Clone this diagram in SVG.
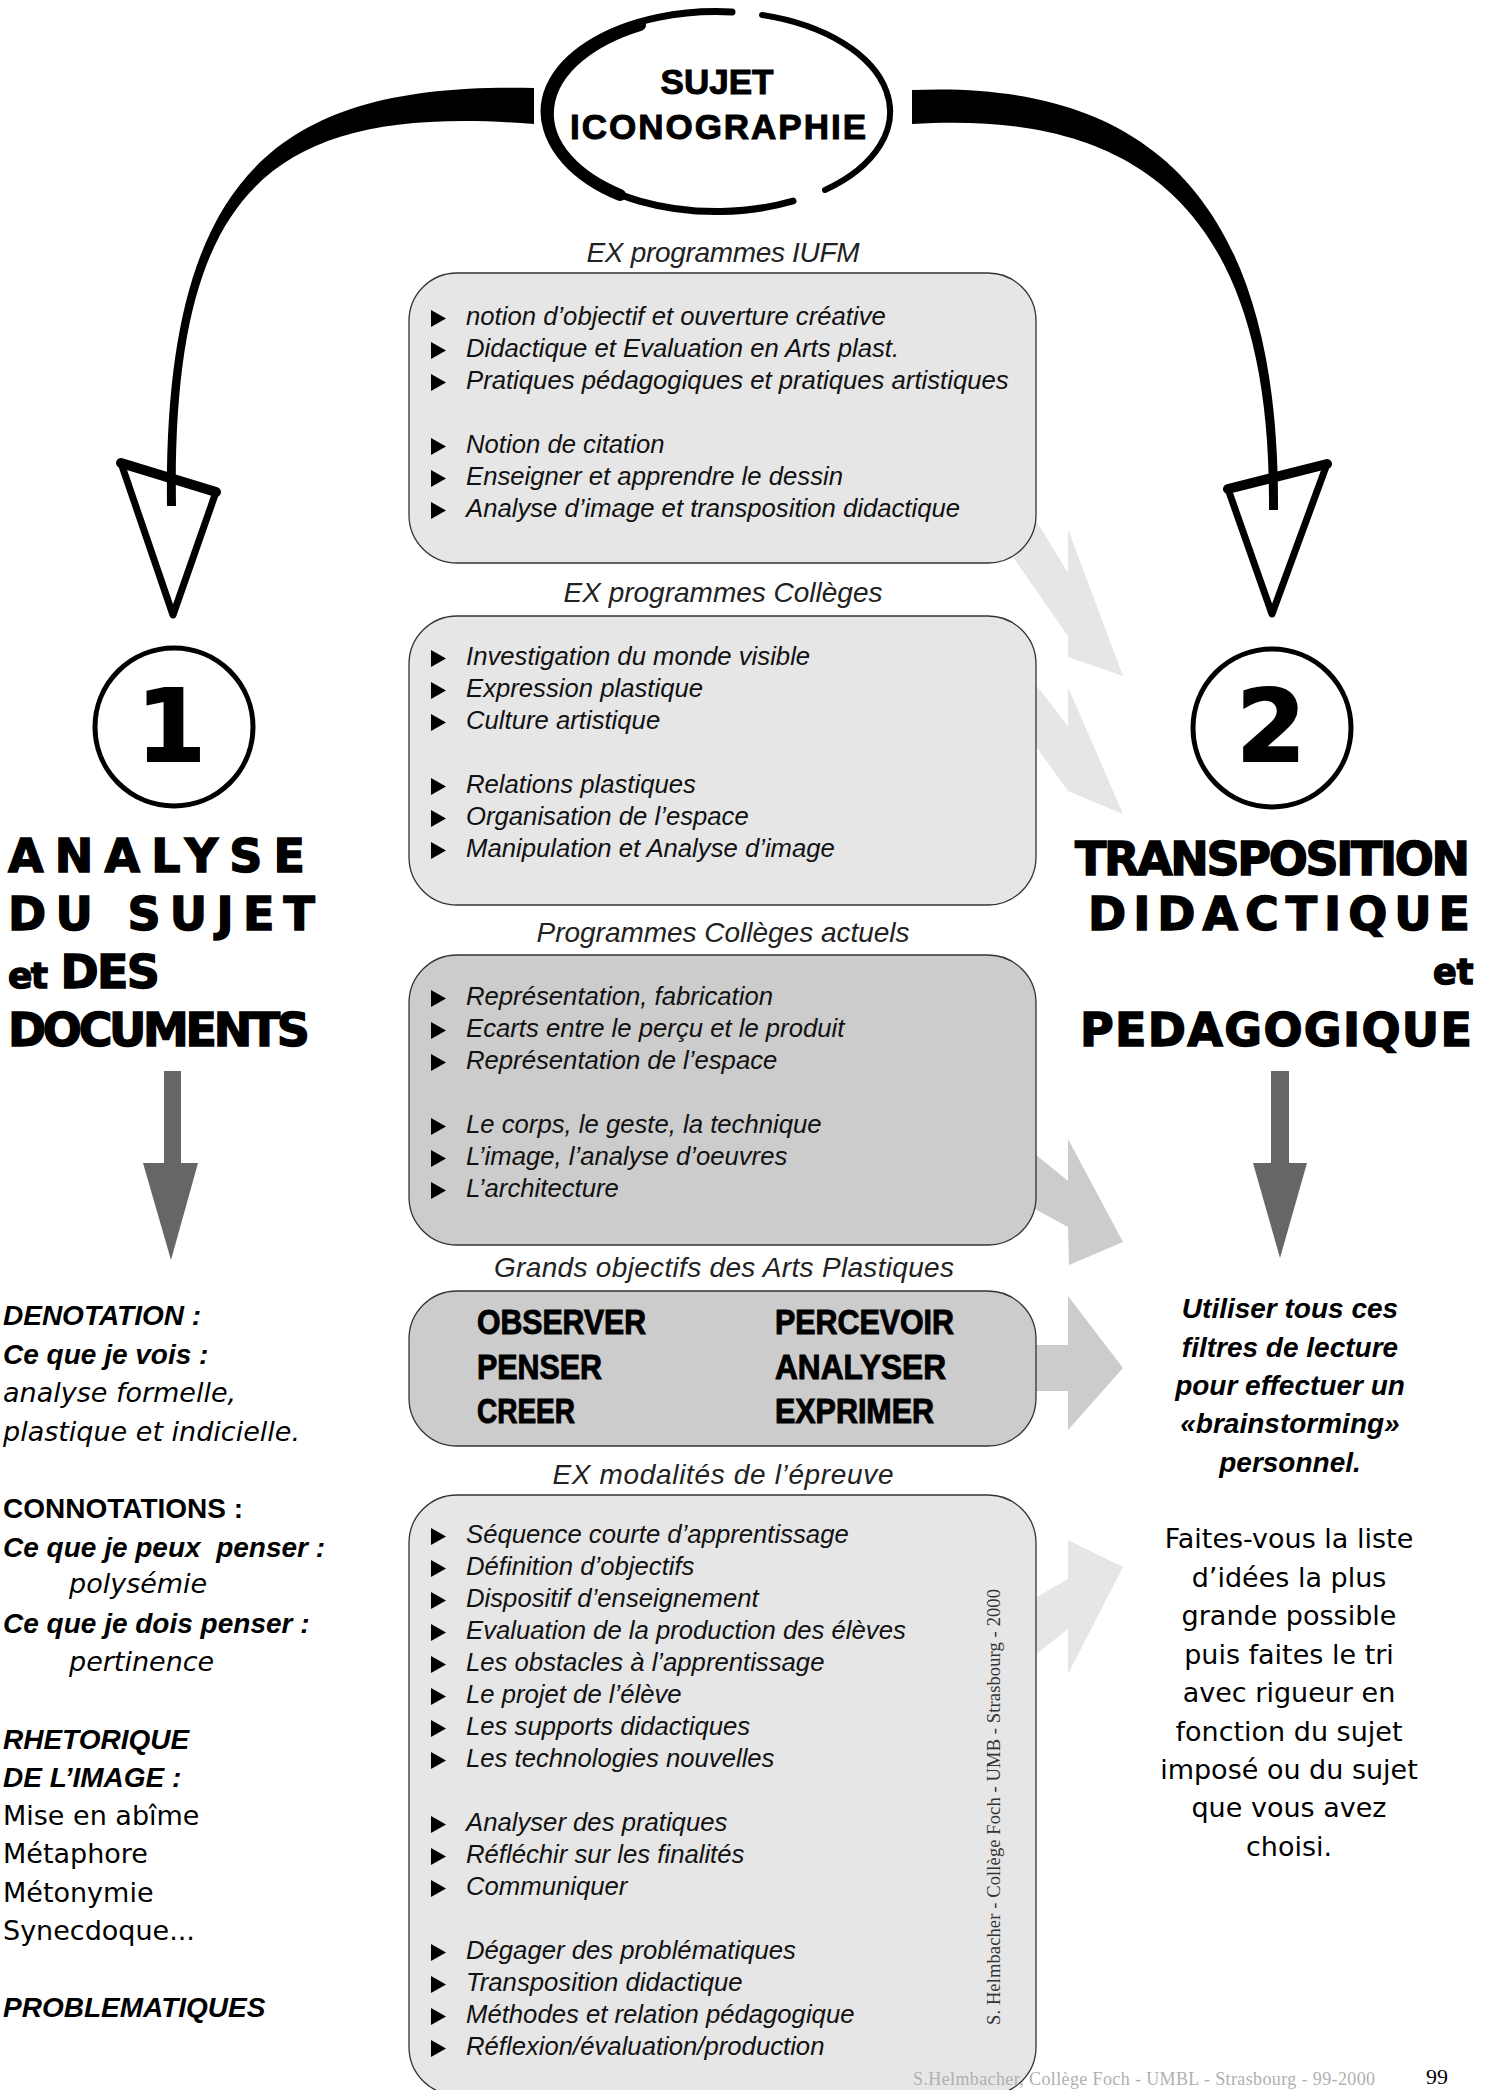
<svg xmlns="http://www.w3.org/2000/svg" width="1491" height="2090" viewBox="0 0 1491 2090">
<defs>
<style>
.boxl{fill:#e6e6e6;stroke:#333;stroke-width:1.3}
.boxd{fill:#cccccc;stroke:#333;stroke-width:1.3}
.title{font-family:"Liberation Sans",Arial,sans-serif;font-style:italic;font-size:28px;fill:#222;text-anchor:middle}
.item{font-family:"Liberation Sans",Arial,sans-serif;font-style:italic;font-size:25.7px;fill:#111}
.big{font-family:"Liberation Sans",Arial,sans-serif;font-weight:bold;font-size:35px;fill:#000;stroke:#000;stroke-width:1}
.head{font-family:"DejaVu Sans",sans-serif;font-weight:bold;font-size:46px;fill:#000;stroke:#000;stroke-width:1.4}
.num{font-family:"DejaVu Sans",sans-serif;font-weight:bold;font-size:100px;fill:#000;stroke:#000;stroke-width:2;text-anchor:middle}
.suj{font-family:"Liberation Sans",Arial,sans-serif;font-weight:bold;font-size:35px;fill:#000;stroke:#000;stroke-width:1;text-anchor:middle}
.lb{font-family:"Liberation Sans",Arial,sans-serif;font-weight:bold;font-style:italic;font-size:28px;fill:#000;white-space:pre}
.lbu{font-family:"Liberation Sans",Arial,sans-serif;font-weight:bold;font-size:28px;fill:#000}
.li{font-family:"DejaVu Sans",sans-serif;font-style:italic;font-size:27px;fill:#000}
.lr{font-family:"DejaVu Sans",sans-serif;font-size:27px;fill:#000}
.rc{text-anchor:middle}
.garr{stroke:none}
.blk{fill:#000;stroke:none}
.head-tri{fill:none;stroke:#000;stroke-width:7;stroke-linejoin:round}
.down{fill:#666;stroke:none}
.ell{fill:none;stroke:#000;stroke-linecap:round}
.foot{font-family:"Liberation Serif","Times New Roman",serif}
</style>
<path id="bul" d="M0,-15 L15,-6.5 L0,2 Z" fill="#000"/>
</defs>
<rect width="1491" height="2090" fill="#fff"/>

<g id="connectors">
  <!-- light gray block arrows (behind boxes) -->
  <polygon class="garr" fill="#e6e6e6" points="1015,486 1068,573 1068,529 1123,676 1068,657 1068,636 985,517"/>
  <polygon class="garr" fill="#e6e6e6" points="1002,642 1068,726 1068,687 1123,814 1068,791 1002,699"/>
  <polygon class="garr" fill="#cccccc" points="1002,1127 1068,1181 1068,1139 1123,1242 1069,1265 1068,1227 1002,1191"/>
  <polygon class="garr" fill="#cccccc" points="1000,1345 1068,1345 1068,1296 1123,1368 1068,1430 1068,1391 1000,1391"/>
  <polygon class="garr" fill="#e6e6e6" points="1002,1617 1068,1579 1068,1540 1123,1567 1068,1674 1068,1629 1002,1681"/>
  <!-- black curved arrows -->
  <path class="blk" d="M534,88 C280,82 163,170 167,506 L176,506 C171,182 275,104 534,124 Z"/>
  <path class="head-tri" d="M121,463 L216,492 L173,615 Z"/>
  <path d="M121,463 L216,492" stroke="#000" stroke-width="10" stroke-linecap="round"/>
  <path class="blk" d="M912,90 C1150,80 1280,200 1278,510 L1269,510 C1272,205 1135,110 912,124 Z"/>
  <path class="head-tri" d="M1228,489 L1327,464 L1272,614 Z"/>
  <path d="M1228,489 L1327,464" stroke="#000" stroke-width="10" stroke-linecap="round"/>
  <!-- gray down arrows -->
  <polygon class="down" points="164,1071 181,1071 181,1163 198,1163 171,1260 143,1163 164,1163"/>
  <polygon class="down" points="1271,1071 1289,1071 1289,1163 1307,1163 1280,1258 1253,1163 1271,1163"/>
</g>

<g id="sujet">
  <path class="ell" stroke-width="7" d="M732,12 A172,100 0 1 0 793,201"/>
  <path class="ell" stroke-width="12" d="M640,25 A172,100 0 0 0 620,195"/>
  <path class="ell" stroke-width="6" d="M762,15 A172,100 0 0 1 825,190"/>
  <text class="suj" x="717" y="94">SUJET</text>
  <text class="suj" x="718" y="139" textLength="296" lengthAdjust="spacing">ICONOGRAPHIE</text>
</g>

<g id="box-iufm">
  <text class="title" x="723" y="262" textLength="273" lengthAdjust="spacing">EX programmes IUFM</text>
  <rect class="boxl" x="409" y="273" width="627" height="290" rx="48" ry="48"/>
  <use href="#bul" x="431" y="325"/><text class="item" x="466" y="325">notion d’objectif et ouverture créative</text>
  <use href="#bul" x="431" y="357"/><text class="item" x="466" y="357">Didactique et Evaluation en Arts plast.</text>
  <use href="#bul" x="431" y="389"/><text class="item" x="466" y="389">Pratiques pédagogiques et pratiques artistiques</text>
  <use href="#bul" x="431" y="453"/><text class="item" x="466" y="453">Notion de citation</text>
  <use href="#bul" x="431" y="485"/><text class="item" x="466" y="485">Enseigner et apprendre le dessin</text>
  <use href="#bul" x="431" y="517"/><text class="item" x="466" y="517">Analyse d’image et transposition didactique</text>
</g>

<g id="box-colleges">
  <text class="title" x="723" y="602" textLength="319" lengthAdjust="spacing">EX programmes Collèges</text>
  <rect class="boxl" x="409" y="616" width="627" height="289" rx="48" ry="48"/>
  <use href="#bul" x="431" y="665"/><text class="item" x="466" y="665">Investigation du monde visible</text>
  <use href="#bul" x="431" y="697"/><text class="item" x="466" y="697">Expression plastique</text>
  <use href="#bul" x="431" y="729"/><text class="item" x="466" y="729">Culture artistique</text>
  <use href="#bul" x="431" y="793"/><text class="item" x="466" y="793">Relations plastiques</text>
  <use href="#bul" x="431" y="825"/><text class="item" x="466" y="825">Organisation de l’espace</text>
  <use href="#bul" x="431" y="857"/><text class="item" x="466" y="857">Manipulation et Analyse d’image</text>
</g>

<g id="box-actuels">
  <text class="title" x="723" y="942" textLength="373" lengthAdjust="spacing">Programmes Collèges actuels</text>
  <rect class="boxd" x="409" y="955" width="627" height="290" rx="48" ry="48"/>
  <use href="#bul" x="431" y="1005"/><text class="item" x="466" y="1005">Représentation, fabrication</text>
  <use href="#bul" x="431" y="1037"/><text class="item" x="466" y="1037">Ecarts entre le perçu et le produit</text>
  <use href="#bul" x="431" y="1069"/><text class="item" x="466" y="1069">Représentation de l’espace</text>
  <use href="#bul" x="431" y="1133"/><text class="item" x="466" y="1133">Le corps, le geste, la technique</text>
  <use href="#bul" x="431" y="1165"/><text class="item" x="466" y="1165">L’image, l’analyse d’oeuvres</text>
  <use href="#bul" x="431" y="1197"/><text class="item" x="466" y="1197">L’architecture</text>
</g>

<g id="box-objectifs">
  <text class="title" x="724" y="1277" textLength="460" lengthAdjust="spacing">Grands objectifs des Arts Plastiques</text>
  <rect class="boxd" x="409" y="1291" width="627" height="155" rx="48" ry="48"/>
  <text class="big" x="477" y="1334" textLength="169" lengthAdjust="spacingAndGlyphs">OBSERVER</text>
  <text class="big" x="477" y="1379" textLength="125" lengthAdjust="spacingAndGlyphs">PENSER</text>
  <text class="big" x="477" y="1423" textLength="98" lengthAdjust="spacingAndGlyphs">CREER</text>
  <text class="big" x="775" y="1334" textLength="179" lengthAdjust="spacingAndGlyphs">PERCEVOIR</text>
  <text class="big" x="775" y="1379" textLength="171" lengthAdjust="spacingAndGlyphs">ANALYSER</text>
  <text class="big" x="775" y="1423" textLength="159" lengthAdjust="spacingAndGlyphs">EXPRIMER</text>
</g>

<g id="box-modalites">
  <text class="title" x="723" y="1484" textLength="341" lengthAdjust="spacing">EX modalités de l’épreuve</text>
  <rect class="boxl" x="409" y="1495" width="627" height="600" rx="48" ry="48"/>
  <use href="#bul" x="431" y="1543"/><text class="item" x="466" y="1543">Séquence courte d’apprentissage</text>
  <use href="#bul" x="431" y="1575"/><text class="item" x="466" y="1575">Définition d’objectifs</text>
  <use href="#bul" x="431" y="1607"/><text class="item" x="466" y="1607">Dispositif d’enseignement</text>
  <use href="#bul" x="431" y="1639"/><text class="item" x="466" y="1639">Evaluation de la production des élèves</text>
  <use href="#bul" x="431" y="1671"/><text class="item" x="466" y="1671">Les obstacles à l’apprentissage</text>
  <use href="#bul" x="431" y="1703"/><text class="item" x="466" y="1703">Le projet de l’élève</text>
  <use href="#bul" x="431" y="1735"/><text class="item" x="466" y="1735">Les supports didactiques</text>
  <use href="#bul" x="431" y="1767"/><text class="item" x="466" y="1767">Les technologies nouvelles</text>
  <use href="#bul" x="431" y="1831"/><text class="item" x="466" y="1831">Analyser des pratiques</text>
  <use href="#bul" x="431" y="1863"/><text class="item" x="466" y="1863">Réfléchir sur les finalités</text>
  <use href="#bul" x="431" y="1895"/><text class="item" x="466" y="1895">Communiquer</text>
  <use href="#bul" x="431" y="1959"/><text class="item" x="466" y="1959">Dégager des problématiques</text>
  <use href="#bul" x="431" y="1991"/><text class="item" x="466" y="1991">Transposition didactique</text>
  <use href="#bul" x="431" y="2023"/><text class="item" x="466" y="2023">Méthodes et relation pédagogique</text>
  <use href="#bul" x="431" y="2055"/><text class="item" x="466" y="2055">Réflexion/évaluation/production</text>
  <text class="foot" transform="translate(1000,2025) rotate(-90)" font-size="18.5" fill="#333" textLength="436" lengthAdjust="spacing">S. Helmbacher - Collège Foch - UMB - Strasbourg - 2000</text>
</g>

<g id="node-analyse">
  <circle cx="174" cy="727" r="79" fill="none" stroke="#000" stroke-width="5"/>
  <text class="num" x="171" y="761">1</text>
  <text class="head" x="8" y="872" textLength="297" lengthAdjust="spacing">ANALYSE</text>
  <text class="head" x="8" y="930" textLength="307" lengthAdjust="spacing">DU SUJET</text>
  <text class="head" x="8" y="988" textLength="152" lengthAdjust="spacing"><tspan font-size="36">et</tspan> DES</text>
  <text class="head" x="8" y="1046" textLength="302" lengthAdjust="spacing">DOCUMENTS</text>
</g>

<g id="node-transposition">
  <circle cx="1272" cy="728" r="79" fill="none" stroke="#000" stroke-width="5"/>
  <text class="num" x="1271" y="761">2</text>
  <text class="head" x="1075" y="875" textLength="395" lengthAdjust="spacing">TRANSPOSITION</text>
  <text class="head" x="1088" y="930" textLength="382" lengthAdjust="spacing">DIDACTIQUE</text>
  <text class="head" x="1433" y="984" style="font-size:35px">et</text>
  <text class="head" x="1080" y="1046" textLength="392" lengthAdjust="spacing">PEDAGOGIQUE</text>
</g>

<g id="left-text">
  <text class="lb" x="3" y="1325">DENOTATION :</text>
  <text class="lb" x="3" y="1364">Ce que je vois :</text>
  <text class="li" x="3" y="1402">analyse formelle,</text>
  <text class="li" x="3" y="1441">plastique et indicielle.</text>
  <text class="lbu" x="3" y="1518">CONNOTATIONS :</text>
  <text class="lb" x="3" y="1557">Ce que je peux  penser :</text>
  <text class="li" x="69" y="1593">polysémie</text>
  <text class="lb" x="3" y="1633">Ce que je dois penser :</text>
  <text class="li" x="69" y="1671">pertinence</text>
  <text class="lb" x="3" y="1749">RHETORIQUE</text>
  <text class="lb" x="3" y="1787">DE L’IMAGE :</text>
  <text class="lr" x="3" y="1825">Mise en abîme</text>
  <text class="lr" x="3" y="1863">Métaphore</text>
  <text class="lr" x="3" y="1902">Métonymie</text>
  <text class="lr" x="3" y="1940">Synecdoque...</text>
  <text class="lb" x="3" y="2017">PROBLEMATIQUES</text>
</g>

<g id="right-text">
  <text class="lb rc" x="1290" y="1318">Utiliser tous ces</text>
  <text class="lb rc" x="1290" y="1357">filtres de lecture</text>
  <text class="lb rc" x="1290" y="1395">pour effectuer un</text>
  <text class="lb rc" x="1290" y="1433">«brainstorming»</text>
  <text class="lb rc" x="1290" y="1472">personnel.</text>
  <text class="lr rc" x="1289" y="1548">Faites-vous la liste</text>
  <text class="lr rc" x="1289" y="1587">d’idées la plus</text>
  <text class="lr rc" x="1289" y="1625">grande possible</text>
  <text class="lr rc" x="1289" y="1664">puis faites le tri</text>
  <text class="lr rc" x="1289" y="1702">avec rigueur en</text>
  <text class="lr rc" x="1289" y="1741">fonction du sujet</text>
  <text class="lr rc" x="1289" y="1779">imposé ou du sujet</text>
  <text class="lr rc" x="1289" y="1817">que vous avez</text>
  <text class="lr rc" x="1289" y="1856">choisi.</text>
</g>

<g id="footer">
  <text class="foot" x="913" y="2085" font-size="18" fill="#b0b0b0" textLength="462" lengthAdjust="spacing">S.Helmbacher, Collège Foch - UMBL - Strasbourg - 99-2000</text>
  <text class="foot" x="1426" y="2084" font-size="22" fill="#000">99</text>
</g>
</svg>
